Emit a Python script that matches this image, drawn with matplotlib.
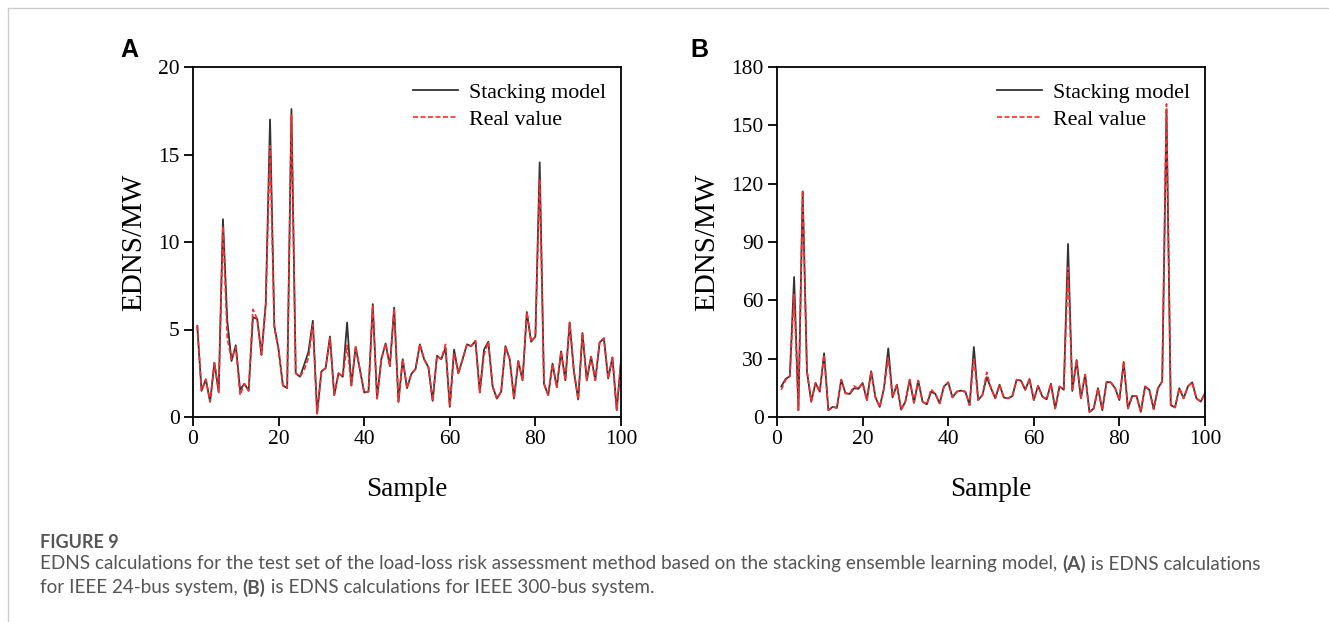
import matplotlib.pyplot as plt
import numpy as np
from matplotlib.lines import Line2D

# Panel A: IEEE 24-bus system
samples = np.arange(1, 101)
edns_a_model = [5.2, 1.5, 2.15, 0.87, 3.1, 1.45, 11.3, 5.5, 3.2, 4.1,
                1.55, 1.9, 1.5, 5.7, 5.6, 3.55, 6.5, 17.0, 5.2, 3.85,
                1.8, 1.65, 17.6, 2.5, 2.3, 3.0, 3.75, 5.5, 0.2, 2.6,
                2.8, 4.6, 1.25, 2.5, 2.3, 5.4, 1.8, 4.0, 2.7, 1.4,
                1.45, 6.45, 1.05, 3.3, 4.2, 2.9, 6.25, 0.87, 3.3, 1.65,
                2.45, 2.75, 4.15, 3.3, 2.85, 0.92, 3.5, 3.3, 3.95, 0.58,
                3.85, 2.5, 3.3, 4.15, 4.05, 4.35, 1.4, 3.85, 4.3, 1.75,
                1.05, 1.45, 4.05, 3.3, 1.05, 3.2, 2.1, 6.0, 4.3, 4.6,
                14.55, 1.9, 1.25, 3.05, 1.7, 3.75, 2.1, 5.4, 2.6, 1.0,
                4.8, 2.1, 3.45, 2.1, 4.25, 4.5, 2.2, 3.4, 0.4, 3.2]
edns_a_real = [5.2, 1.5, 2.15, 0.87, 3.1, 1.4, 10.9, 4.5, 3.3, 4.0,
               1.25, 1.9, 1.5, 6.15, 5.6, 3.55, 6.4, 15.5, 5.1, 3.85,
               1.8, 1.65, 17.3, 2.5, 2.3, 2.7, 3.4, 5.3, 0.2, 2.6,
               2.8, 4.5, 1.25, 2.5, 2.3, 4.1, 1.8, 4.0, 2.7, 1.4,
               1.45, 6.4, 1.05, 3.3, 4.2, 2.9, 6.2, 0.87, 3.3, 1.65,
               2.45, 2.75, 4.15, 3.3, 2.85, 0.92, 3.5, 3.3, 4.15, 0.58,
               3.6, 2.5, 3.3, 4.15, 4.05, 4.35, 1.4, 3.55, 4.3, 1.75,
               1.05, 1.45, 4.05, 3.3, 1.05, 3.2, 2.1, 6.0, 4.3, 4.6,
               13.6, 1.9, 1.25, 3.05, 1.7, 3.75, 2.1, 5.4, 2.6, 1.0,
               4.8, 2.1, 3.45, 2.1, 4.25, 4.5, 2.2, 3.4, 0.4, 3.2]

# Panel B: IEEE 300-bus system
edns_b_model = [15.7, 19.5, 21.0, 72.0, 3.5, 116.0, 23.5, 7.9, 17.5, 13.0,
                32.8, 3.5, 5.2, 4.7, 19.2, 12.2, 11.9, 14.8, 14.5, 17.5,
                8.7, 23.5, 10.1, 5.2, 14.8, 35.3, 10.1, 16.6, 3.8, 7.9,
                19.2, 7.3, 18.7, 7.9, 6.5, 13.0, 11.9, 7.0, 15.7, 17.8,
                10.1, 13.0, 13.6, 13.0, 6.1, 36.0, 8.7, 11.3, 20.5, 14.8,
                9.6, 16.6, 10.0, 9.6, 10.8, 19.2, 18.7, 14.0, 19.5, 8.7,
                16.0, 10.5, 9.1, 17.1, 4.4, 15.7, 14.0, 89.0, 13.4, 29.3,
                9.6, 21.8, 2.6, 4.4, 14.8, 3.5, 18.0, 17.8, 14.8, 8.7,
                28.3, 4.4, 10.8, 10.8, 2.6, 15.7, 14.0, 4.0, 14.8, 18.3,
                158.0, 6.1, 4.9, 14.8, 9.6, 15.7, 17.8, 9.6, 7.9, 12.2]
edns_b_real = [14.0, 19.0, 21.0, 63.0, 3.5, 116.5, 23.5, 7.9, 17.5, 13.0,
               32.0, 3.5, 5.2, 4.7, 19.2, 12.2, 11.9, 16.0, 14.5, 17.5,
               8.7, 23.5, 10.1, 5.2, 14.8, 30.5, 10.1, 16.6, 3.8, 7.9,
               19.2, 7.3, 18.7, 7.9, 6.5, 14.3, 11.9, 7.0, 15.7, 17.8,
               10.1, 13.0, 13.6, 13.0, 6.1, 30.5, 8.7, 11.3, 23.0, 14.8,
               9.6, 16.6, 10.0, 9.6, 10.8, 19.2, 18.7, 14.0, 19.5, 8.7,
               16.0, 10.5, 9.1, 17.1, 4.4, 15.7, 14.0, 77.0, 13.4, 29.3,
               9.6, 21.8, 2.6, 4.4, 14.8, 3.5, 18.0, 17.8, 14.8, 8.7,
               28.3, 4.4, 10.8, 10.8, 2.6, 15.7, 14.0, 4.0, 14.8, 18.3,
               161.0, 6.1, 4.9, 14.8, 9.6, 15.7, 17.8, 9.6, 7.9, 12.2]

panels = [
    ("A", edns_a_model, edns_a_real, (0, 20), [0, 5, 10, 15, 20]),
    ("B", edns_b_model, edns_b_real, (0, 180), [0, 30, 60, 90, 120, 150, 180]),
]
lefts = [193 / 1329, 777 / 1329]
label_x = [120 / 1329, 690 / 1329]

fig = plt.figure(figsize=(13.29, 6.22), dpi=100)
serif = "Liberation Serif"

for (name, model, real, ylim, yticks), left, lx in zip(panels, lefts, label_x):
    ax = fig.add_axes([left, 1 - 417 / 622, 428 / 1329, 350 / 622])
    ax.plot(samples, model, color="#333333", lw=1.3, label="Stacking model")
    ax.plot(samples, real, color="#ff2a2a", lw=1.2, ls=(0, (3, 1.5)), label="Real value")
    ax.set_xlim(0, 100)
    ax.set_ylim(*ylim)
    ax.set_xticks([0, 20, 40, 60, 80, 100])
    ax.set_yticks(yticks)
    ax.tick_params(direction="out", length=6.5, width=1.3, labelsize=15.5, pad=3)
    for lab in ax.get_xticklabels() + ax.get_yticklabels():
        lab.set_fontfamily(serif)
    for sp in ax.spines.values():
        sp.set_linewidth(1.3)
    ax.set_xlabel("Sample", fontsize=19.5, family=serif, labelpad=20)
    ax.set_ylabel("EDNS/MW", fontsize=21, family=serif, labelpad=8)
    ax.legend(loc="upper right", frameon=False, prop={"family": serif, "size": 15.8},
              handlelength=2.05, handletextpad=0.5, labelspacing=0.3,
              borderaxespad=0.3)
    fig.text(lx, 1 - 50 / 622, name, fontsize=18, fontweight="bold",
             family="Liberation Sans", ha="left", va="center")

# thin frame lines of the figure box
fig.add_artist(Line2D([8 / 1329, 1], [1 - 8 / 622, 1 - 8 / 622], color="#cccccc", lw=1))
fig.add_artist(Line2D([8 / 1329, 8 / 1329], [0, 1 - 8 / 622], color="#cccccc", lw=1))

cap = "#555555"
fig.text(40 / 1329, 1 - 542 / 622, "FIGURE 9", fontsize=13, fontweight="bold",
         family="Lato", color=cap, va="center")

# caption lines, with the panel letters in bold
caption_lines = [
    [("EDNS calculations for the test set of the load-loss risk assessment method based on the "
      "stacking ensemble learning model, ", "normal"), ("(A)", "bold"),
     (" is EDNS calculations", "normal")],
    [("for IEEE 24-bus system, ", "normal"), ("(B)", "bold"),
     (" is EDNS calculations for IEEE 300-bus system.", "normal")],
]
renderer = fig.canvas.get_renderer()
for row, pieces in enumerate(caption_lines):
    x = 40 / 1329
    y = 1 - (564 + 24 * row) / 622
    for txt, weight in pieces:
        t = fig.text(x, y, txt, fontsize=13.6, family="Lato", fontweight=weight,
                     color=cap, va="center")
        bb = t.get_window_extent(renderer=renderer)
        x += bb.width / fig.bbox.width

fig.savefig("out.png", dpi=100)
